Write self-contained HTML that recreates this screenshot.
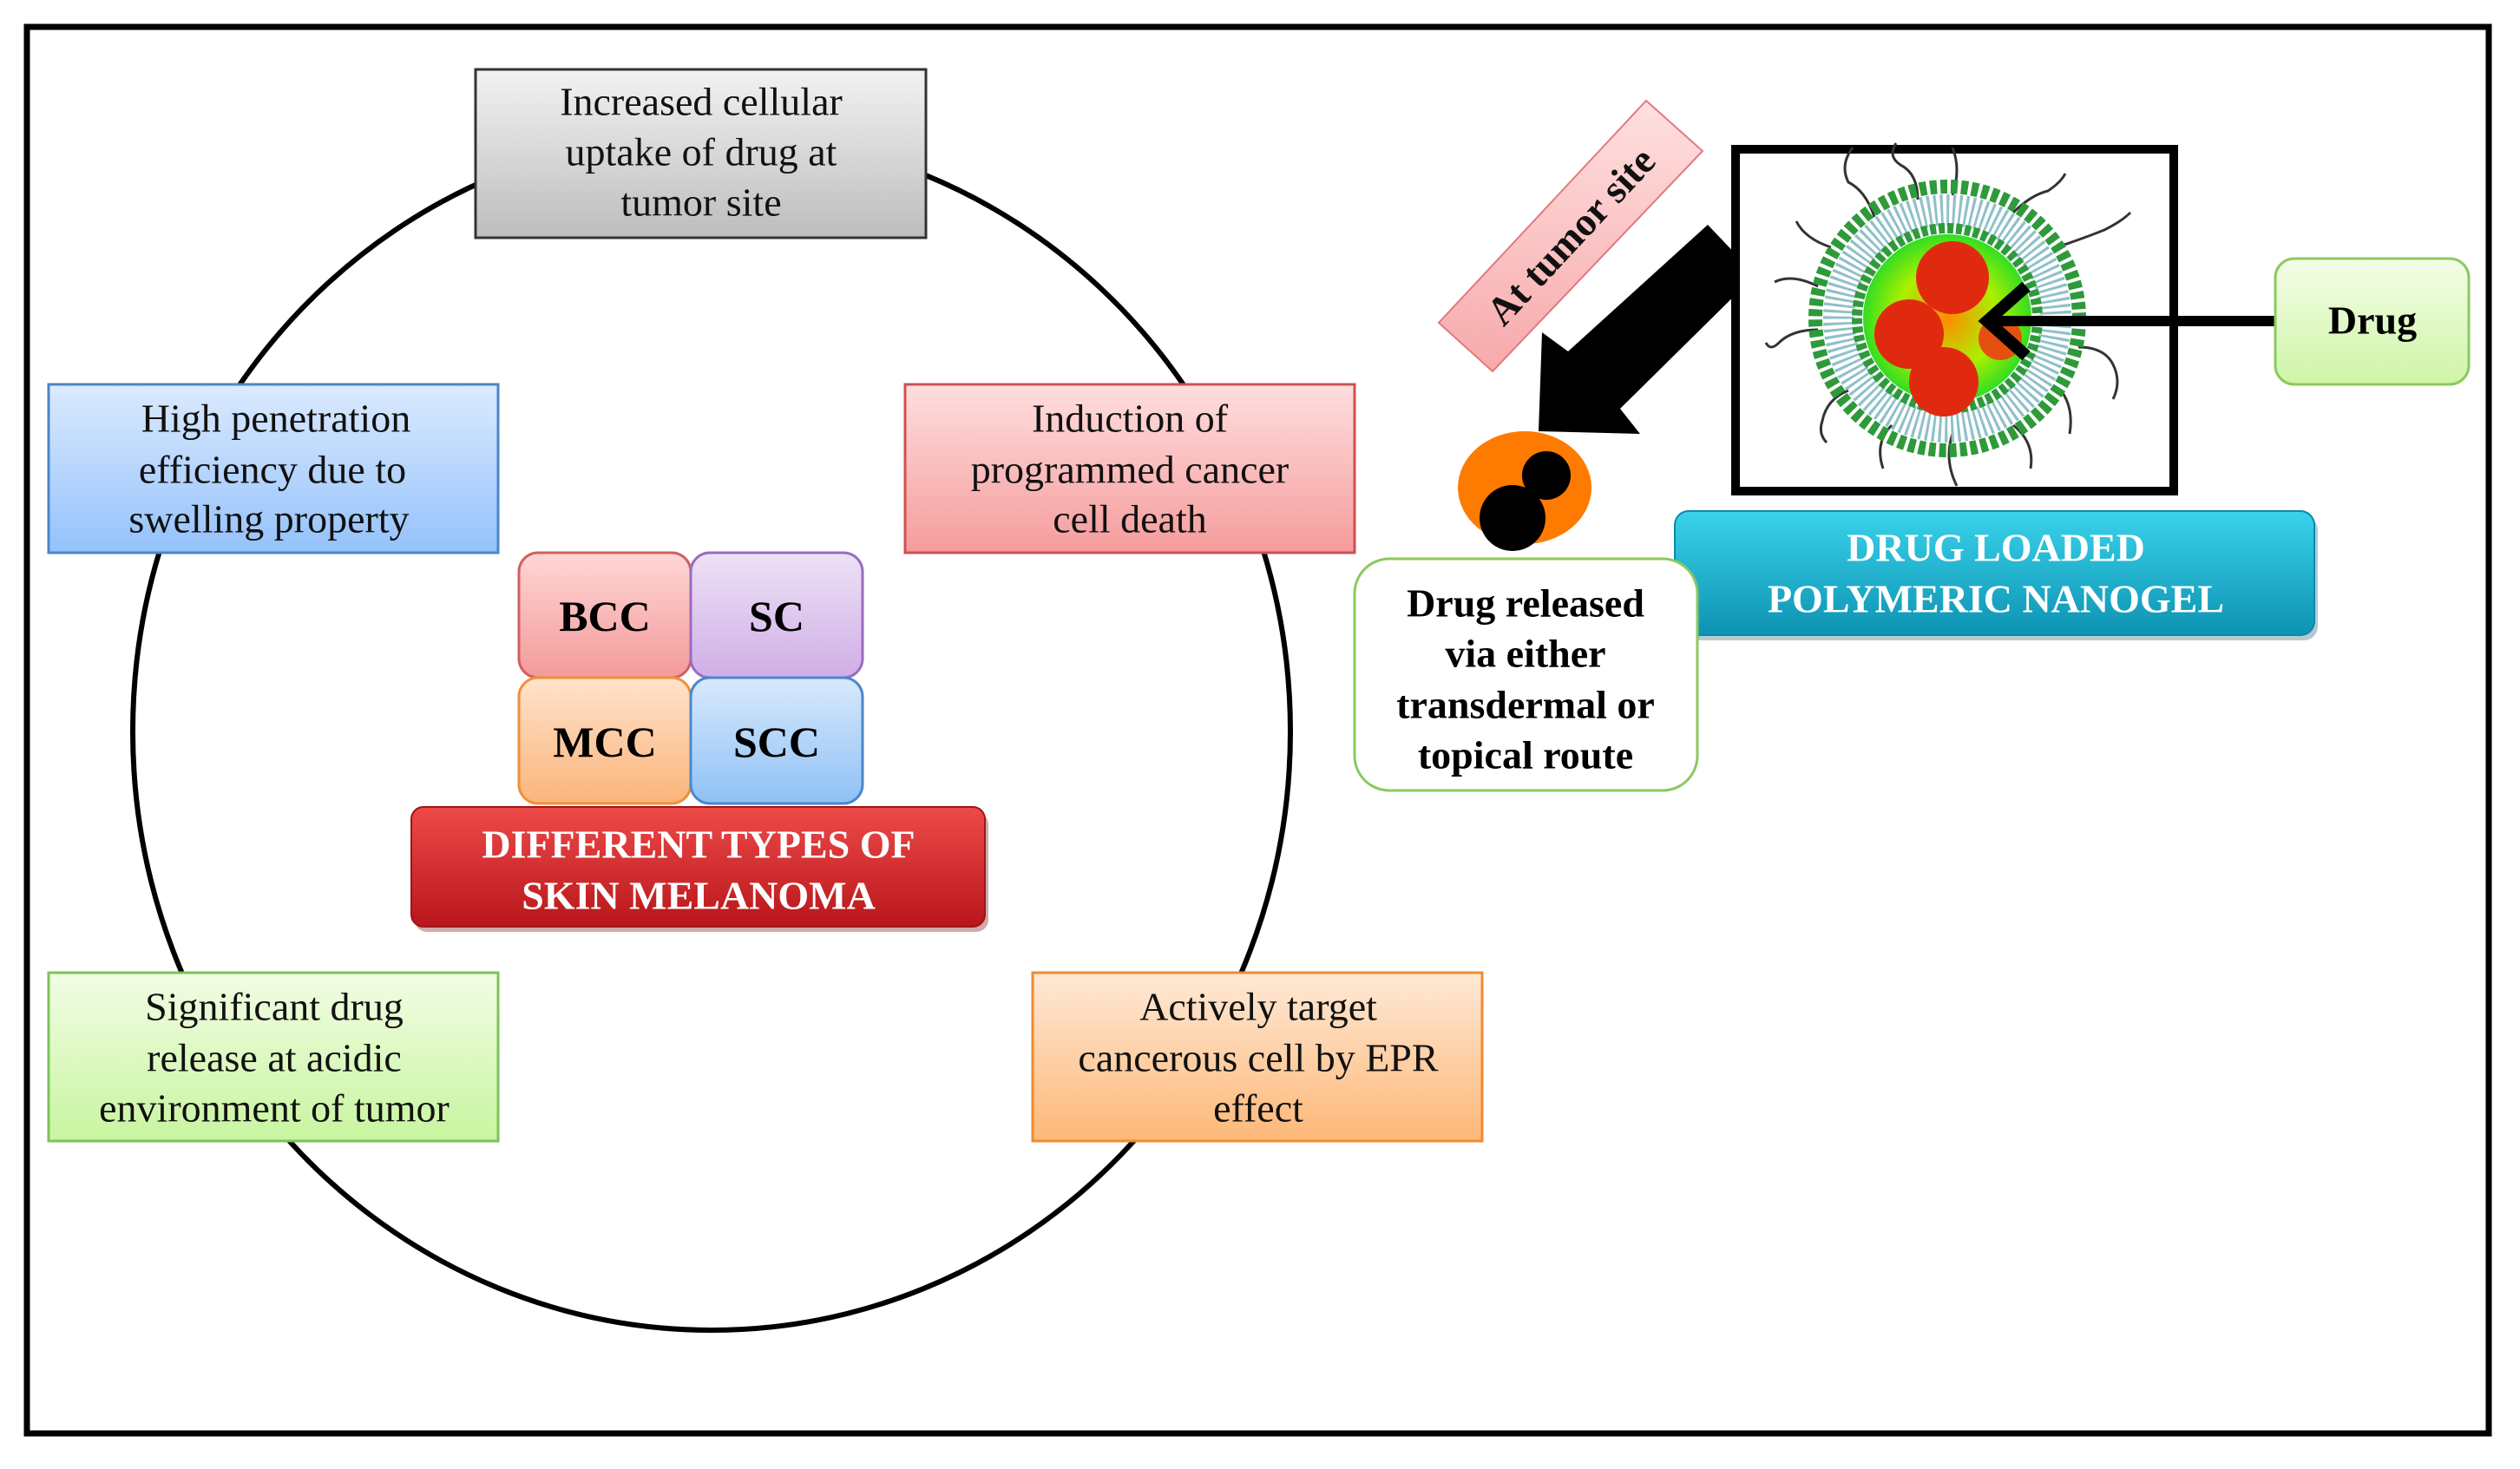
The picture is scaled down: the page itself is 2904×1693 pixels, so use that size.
<!DOCTYPE html>
<html><head><meta charset="utf-8"><style>
html,body{margin:0;padding:0;background:#fff;}
svg{display:block;font-family:"Liberation Serif","Times New Roman","DejaVu Serif",serif;}
svg text{font-family:"Liberation Serif","Times New Roman","DejaVu Serif",serif;}
</style></head><body>
<svg width="2904" height="1693" viewBox="0 0 2904 1693" xmlns="http://www.w3.org/2000/svg" font-family="Liberation Serif, Times New Roman, serif">
<defs>
<linearGradient id="gGray" x1="0" y1="0" x2="0" y2="1"><stop offset="0" stop-color="#f2f2f2"/><stop offset="1" stop-color="#bdbdbd"/></linearGradient>
<linearGradient id="gBlue" x1="0" y1="0" x2="0" y2="1"><stop offset="0" stop-color="#dbeaff"/><stop offset="1" stop-color="#94c2fb"/></linearGradient>
<linearGradient id="gPink" x1="0" y1="0" x2="0" y2="1"><stop offset="0" stop-color="#ffdede"/><stop offset="1" stop-color="#f59c9c"/></linearGradient>
<linearGradient id="gGreen" x1="0" y1="0" x2="0" y2="1"><stop offset="0" stop-color="#f2fde4"/><stop offset="1" stop-color="#c8f5a0"/></linearGradient>
<linearGradient id="gOrange" x1="0" y1="0" x2="0" y2="1"><stop offset="0" stop-color="#ffe9d6"/><stop offset="1" stop-color="#fdb878"/></linearGradient>
<linearGradient id="gBcc" x1="0" y1="0" x2="0" y2="1"><stop offset="0" stop-color="#ffd6d6"/><stop offset="1" stop-color="#f49a9a"/></linearGradient>
<linearGradient id="gSc" x1="0" y1="0" x2="0" y2="1"><stop offset="0" stop-color="#eee2f6"/><stop offset="1" stop-color="#cfaee6"/></linearGradient>
<linearGradient id="gMcc" x1="0" y1="0" x2="0" y2="1"><stop offset="0" stop-color="#ffe3cc"/><stop offset="1" stop-color="#fbb47a"/></linearGradient>
<linearGradient id="gScc" x1="0" y1="0" x2="0" y2="1"><stop offset="0" stop-color="#d8e9fd"/><stop offset="1" stop-color="#8fc1f5"/></linearGradient>
<linearGradient id="gRed" x1="0" y1="0" x2="0" y2="1"><stop offset="0" stop-color="#ee4a4a"/><stop offset="1" stop-color="#b8161a"/></linearGradient>
<linearGradient id="gTeal" x1="0" y1="0" x2="0" y2="1"><stop offset="0" stop-color="#3ad2ea"/><stop offset="1" stop-color="#0d93b3"/></linearGradient>
<linearGradient id="gDrug" x1="0" y1="0" x2="0" y2="1"><stop offset="0" stop-color="#f4fde8"/><stop offset="1" stop-color="#cff5a6"/></linearGradient>
<linearGradient id="gTag" x1="0" y1="0" x2="0" y2="1"><stop offset="0" stop-color="#ffe0e0"/><stop offset="1" stop-color="#f7a9ab"/></linearGradient>
<radialGradient id="gCore" cx="0.5" cy="0.5" r="0.5"><stop offset="0" stop-color="#ff8c00"/><stop offset="0.6" stop-color="#aaf000"/><stop offset="1" stop-color="#33dd22"/></radialGradient>
</defs>

<rect x="0" y="0" width="2904" height="1693" fill="#fff"/>
<rect x="31" y="31" width="2837" height="1621" fill="none" stroke="#000" stroke-width="7"/>

<ellipse cx="820" cy="843" rx="667" ry="690" fill="none" stroke="#000" stroke-width="6"/>

<g font-family="Liberation Serif, Times New Roman, serif" font-size="46" text-anchor="middle" dominant-baseline="central" fill="#111">
<rect x="548" y="80" width="519" height="194" fill="url(#gGray)" stroke="#333" stroke-width="3"/>
<text x="808" y="117">Increased cellular</text>
<text x="808" y="175">uptake of drug at</text>
<text x="808" y="233">tumor site</text>

<rect x="56" y="443" width="518" height="194" fill="url(#gBlue)" stroke="#4a86c8" stroke-width="3"/>
<text x="318" y="482">High  penetration</text>
<text x="314" y="541">efficiency  due  to</text>
<text x="310" y="598">swelling property</text>

<rect x="1043" y="443" width="518" height="194" fill="url(#gPink)" stroke="#d05050" stroke-width="3"/>
<text x="1302" y="482">Induction of</text>
<text x="1302" y="541">programmed cancer</text>
<text x="1302" y="598">cell  death</text>

<rect x="56" y="1121" width="518" height="194" fill="url(#gGreen)" stroke="#7cc35a" stroke-width="3"/>
<text x="316" y="1160">Significant  drug</text>
<text x="316" y="1219">release  at acidic</text>
<text x="316" y="1277">environment  of tumor</text>

<rect x="1190" y="1121" width="518" height="194" fill="url(#gOrange)" stroke="#f08a30" stroke-width="3"/>
<text x="1450" y="1160">Actively target</text>
<text x="1450" y="1219">cancerous cell  by EPR</text>
<text x="1450" y="1277">effect</text>
</g>

<g font-family="Liberation Serif, Times New Roman, serif" font-size="50" font-weight="bold" text-anchor="middle" dominant-baseline="central" fill="#000">
<rect x="598" y="637" width="198" height="144" rx="22" fill="url(#gBcc)" stroke="#d06060" stroke-width="3"/>
<rect x="796" y="637" width="198" height="144" rx="22" fill="url(#gSc)" stroke="#9a6cc0" stroke-width="3"/>
<rect x="598" y="781" width="198" height="145" rx="22" fill="url(#gMcc)" stroke="#f0903a" stroke-width="3"/>
<rect x="796" y="781" width="198" height="145" rx="22" fill="url(#gScc)" stroke="#4a88cc" stroke-width="3"/>
<text x="697" y="710">BCC</text>
<text x="895" y="710">SC</text>
<text x="697" y="855">MCC</text>
<text x="895" y="855">SCC</text>
</g>
<rect x="478" y="936" width="661" height="138" rx="14" fill="#7a0e10" opacity="0.35"/>
<rect x="474" y="930" width="661" height="138" rx="14" fill="url(#gRed)" stroke="#a01418" stroke-width="2"/>
<g font-family="Liberation Serif, Times New Roman, serif" font-size="46" font-weight="bold" text-anchor="middle" dominant-baseline="central" fill="#fff">
<text x="805" y="973">DIFFERENT TYPES OF</text>
<text x="805" y="1032">SKIN MELANOMA</text>
</g>

<polygon points="1897,116 1962,174 1720,428 1658,372" fill="url(#gTag)" stroke="#e07a80" stroke-width="2"/>
<text x="1810" y="272" font-family="Liberation Serif, Times New Roman, serif" font-size="46" font-weight="bold" text-anchor="middle" dominant-baseline="central" transform="rotate(-47 1810 272)" fill="#111">At tumor site</text>

<polygon points="1968,259 2023,317 1867,471 1890,500 1773,497 1777,383 1807,405" fill="#000"/>

<ellipse cx="1757" cy="562" rx="77" ry="65" fill="#ff7a00"/>
<circle cx="1782" cy="548" r="28" fill="#000"/>
<circle cx="1743" cy="597" r="38" fill="#000"/>

<rect x="2000" y="172" width="505" height="394" fill="#fff" stroke="#000" stroke-width="10"/>
<g stroke="#333" stroke-width="3" fill="none">
<path d="M2160,250 q-10,-30 -30,-40 q-10,-20 5,-40"/>
<path d="M2210,230 q0,-30 -20,-40 q-15,-10 -5,-25"/>
<path d="M2250,225 q10,-30 0,-55"/>
<path d="M2320,245 q20,-20 40,-25 q15,-10 20,-20"/>
<path d="M2370,285 q30,-10 55,-20 q20,-10 30,-20"/>
<path d="M2395,400 q30,0 40,20 q10,20 0,40"/>
<path d="M2375,450 q15,20 10,50"/>
<path d="M2320,490 q25,20 20,50"/>
<path d="M2250,500 q-10,30 5,60"/>
<path d="M2180,490 q-20,20 -10,50"/>
<path d="M2130,450 q-25,10 -30,35 q-5,15 5,25"/>
<path d="M2095,380 q-30,0 -45,15 q-10,10 -15,0"/>
<path d="M2095,330 q-30,-15 -50,-5"/>
<path d="M2110,285 q-30,-10 -40,-30"/>
</g>
<circle cx="2244" cy="367" r="152" fill="none" stroke="#2e9a3a" stroke-width="16" stroke-dasharray="8 4"/>
<circle cx="2244" cy="367" r="125" fill="none" stroke="#8fc0c8" stroke-width="36" stroke-dasharray="3 4"/>
<circle cx="2244" cy="367" r="104" fill="none" stroke="#2e9a3a" stroke-width="12" stroke-dasharray="7 3"/>
<circle cx="2244" cy="367" r="97" fill="url(#gCore)"/>
<circle cx="2250" cy="320" r="42" fill="#e02a10"/>
<circle cx="2200" cy="385" r="40" fill="#e02a10"/>
<circle cx="2240" cy="440" r="40" fill="#e02a10"/>
<circle cx="2305" cy="390" r="25" fill="#e55010"/>

<line x1="2622" y1="370" x2="2300" y2="370" stroke="#000" stroke-width="12"/>
<polyline points="2335,330 2290,370 2335,410" fill="none" stroke="#000" stroke-width="14"/>
<rect x="2622" y="298" width="223" height="145" rx="22" fill="url(#gDrug)" stroke="#8cc860" stroke-width="3"/>
<text x="2734" y="369" font-family="Liberation Serif, Times New Roman, serif" font-size="46" font-weight="bold" text-anchor="middle" dominant-baseline="central">Drug</text>

<rect x="1934" y="595" width="737" height="143" rx="16" fill="#0a5060" opacity="0.3"/>
<rect x="1930" y="589" width="737" height="143" rx="16" fill="url(#gTeal)" stroke="#0a8aa8" stroke-width="2"/>
<g font-family="Liberation Serif, Times New Roman, serif" font-size="46" font-weight="bold" text-anchor="middle" dominant-baseline="central" fill="#fff">
<text x="2300" y="631">DRUG LOADED</text>
<text x="2300" y="690">POLYMERIC NANOGEL</text>
</g>

<rect x="1561" y="644" width="395" height="267" rx="40" fill="#fff" stroke="#8cc860" stroke-width="3"/>
<g font-family="Liberation Serif, Times New Roman, serif" font-size="46" font-weight="bold" text-anchor="middle" dominant-baseline="central" fill="#000">
<text x="1758" y="695">Drug released</text>
<text x="1758" y="753">via either</text>
<text x="1758" y="812">transdermal  or</text>
<text x="1758" y="870">topical route</text>
</g>
</svg>
</body></html>
